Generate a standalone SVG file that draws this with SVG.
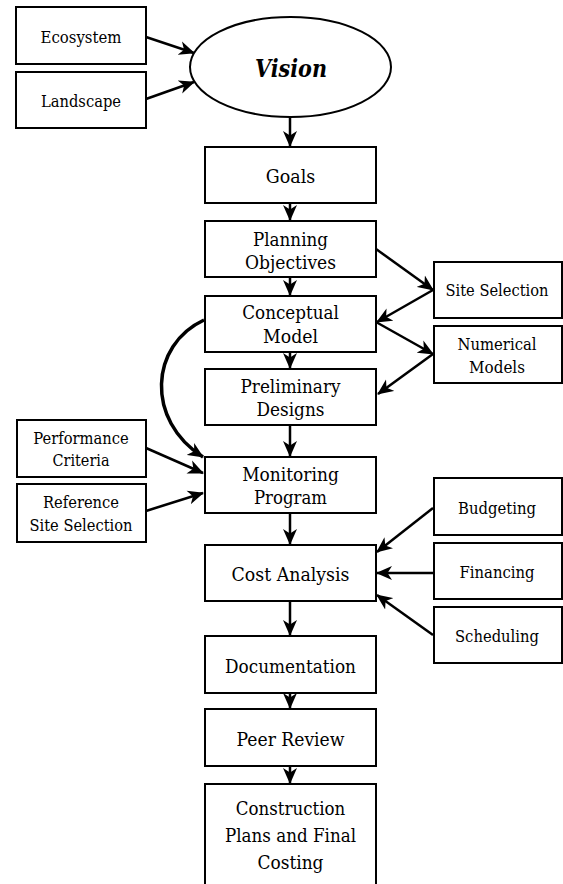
<svg xmlns="http://www.w3.org/2000/svg" width="563" height="884" viewBox="0 0 563 884">
<style>
.box{fill:#fff;stroke:#000;stroke-width:2}
.t{font-family:'DejaVu Serif',serif;fill:#000;text-anchor:middle}
.s{font-size:17.5px}
.c{font-size:19px}
.v{font-size:24px;font-weight:bold;font-style:italic}
.ln{fill:none;stroke:#000;stroke-width:2.5;marker-end:url(#ah)}
.cv{fill:none;stroke:#000;stroke-width:3.5;marker-end:url(#ah)}
</style>
<defs>
<marker id="ah" markerUnits="userSpaceOnUse" markerWidth="17" markerHeight="15" refX="15" refY="7" orient="auto" viewBox="0 0 17 14">
<path d="M0,0 L16,7 L0,14 L4.5,7 z" fill="#000"/>
</marker>
</defs>
<rect width="563" height="884" fill="#fff"/>
<g id="connectors">
<line class="ln" x1="146" y1="37" x2="194" y2="53"/>
<line class="ln" x1="146" y1="99" x2="194" y2="82"/>
<line class="ln" x1="290" y1="117" x2="290" y2="146"/>
<line class="ln" x1="290" y1="203" x2="290" y2="220"/>
<line class="ln" x1="290" y1="277" x2="290" y2="295"/>
<line class="ln" x1="290" y1="352" x2="290" y2="368"/>
<line class="ln" x1="290" y1="425" x2="290" y2="456"/>
<line class="ln" x1="290" y1="513" x2="290" y2="544"/>
<line class="ln" x1="290" y1="601" x2="290" y2="635"/>
<line class="ln" x1="290" y1="693" x2="290" y2="708"/>
<line class="ln" x1="290" y1="766" x2="290" y2="783"/>
<line class="ln" x1="376" y1="249" x2="433" y2="290"/>
<line class="ln" x1="433" y1="290" x2="377" y2="322"/>
<line class="ln" x1="376" y1="322" x2="433" y2="354"/>
<line class="ln" x1="433" y1="354" x2="378" y2="394"/>
<path class="cv" d="M204,320 C150,345 145,420 203,457"/>
<line class="ln" x1="146" y1="448" x2="203" y2="473"/>
<line class="ln" x1="146" y1="511" x2="203" y2="493"/>
<line class="ln" x1="433" y1="508" x2="377" y2="552"/>
<line class="ln" x1="433" y1="573" x2="377" y2="573"/>
<line class="ln" x1="433" y1="635" x2="377" y2="595"/>
</g>
<g id="ecosystem"><rect class="box" x="16" y="7" width="130" height="57"/><text class="t s" x="81" y="43" textLength="81" lengthAdjust="spacingAndGlyphs">Ecosystem</text></g>
<g id="landscape"><rect class="box" x="16" y="72" width="130" height="56"/><text class="t s" x="81" y="107" textLength="80" lengthAdjust="spacingAndGlyphs">Landscape</text></g>
<g id="vision"><ellipse fill="#fff" stroke="#000" stroke-width="2" cx="290.5" cy="67" rx="100.5" ry="50"/><text class="t v" x="291" y="77" textLength="72" lengthAdjust="spacingAndGlyphs">Vision</text></g>
<g id="goals"><rect class="box" x="205" y="147" width="171" height="56"/><text class="t c" x="290.5" y="183" textLength="49.5" lengthAdjust="spacingAndGlyphs">Goals</text></g>
<g id="planning"><rect class="box" x="205" y="221" width="171" height="56"/><text class="t c" x="290.5" y="246" textLength="75" lengthAdjust="spacingAndGlyphs">Planning</text><text class="t c" x="290.5" y="269" textLength="91" lengthAdjust="spacingAndGlyphs">Objectives</text></g>
<g id="conceptual"><rect class="box" x="205" y="296" width="171" height="56"/><text class="t c" x="290.5" y="319" textLength="96.5" lengthAdjust="spacingAndGlyphs">Conceptual</text><text class="t c" x="290.5" y="343" textLength="55" lengthAdjust="spacingAndGlyphs">Model</text></g>
<g id="preliminary"><rect class="box" x="205" y="369" width="171" height="56"/><text class="t c" x="290.5" y="393" textLength="100" lengthAdjust="spacingAndGlyphs">Preliminary</text><text class="t c" x="290.5" y="416" textLength="68" lengthAdjust="spacingAndGlyphs">Designs</text></g>
<g id="monitoring"><rect class="box" x="205" y="457" width="171" height="56"/><text class="t c" x="290.5" y="481" textLength="96.6" lengthAdjust="spacingAndGlyphs">Monitoring</text><text class="t c" x="290.5" y="504" textLength="73" lengthAdjust="spacingAndGlyphs">Program</text></g>
<g id="cost"><rect class="box" x="205" y="545" width="171" height="56"/><text class="t c" x="290.5" y="581" textLength="118" lengthAdjust="spacingAndGlyphs">Cost Analysis</text></g>
<g id="documentation"><rect class="box" x="205" y="636" width="171" height="57"/><text class="t c" x="290.5" y="673" textLength="131" lengthAdjust="spacingAndGlyphs">Documentation</text></g>
<g id="peer"><rect class="box" x="205" y="709" width="171" height="57"/><text class="t c" x="290.5" y="746" textLength="108" lengthAdjust="spacingAndGlyphs">Peer Review</text></g>
<g id="construction"><rect class="box" x="205" y="784" width="171" height="110"/><text class="t c" x="290.5" y="815" textLength="109.5" lengthAdjust="spacingAndGlyphs">Construction</text><text class="t c" x="290.5" y="842" textLength="131" lengthAdjust="spacingAndGlyphs">Plans and Final</text><text class="t c" x="290.5" y="869" textLength="66" lengthAdjust="spacingAndGlyphs">Costing</text></g>
<g id="siteselection"><rect class="box" x="434" y="262" width="128" height="56"/><text class="t" font-size="16" x="497" y="296" textLength="103" lengthAdjust="spacingAndGlyphs">Site Selection</text></g>
<g id="numerical"><rect class="box" x="434" y="326" width="128" height="57"/><text class="t s" x="497" y="350" textLength="79" lengthAdjust="spacingAndGlyphs">Numerical</text><text class="t s" x="497" y="373" textLength="56" lengthAdjust="spacingAndGlyphs">Models</text></g>
<g id="performance"><rect class="box" x="17" y="420" width="129" height="57"/><text class="t s" x="81" y="444" textLength="95.5" lengthAdjust="spacingAndGlyphs">Performance</text><text class="t s" x="81" y="466" textLength="57" lengthAdjust="spacingAndGlyphs">Criteria</text></g>
<g id="reference"><rect class="box" x="17" y="484" width="129" height="58"/><text class="t s" x="81" y="508" textLength="76" lengthAdjust="spacingAndGlyphs">Reference</text><text class="t s" x="81" y="531" textLength="103" lengthAdjust="spacingAndGlyphs">Site Selection</text></g>
<g id="budgeting"><rect class="box" x="434" y="478" width="128" height="57"/><text class="t s" x="497" y="514" textLength="78" lengthAdjust="spacingAndGlyphs">Budgeting</text></g>
<g id="financing"><rect class="box" x="434" y="543" width="128" height="56"/><text class="t s" x="497" y="578" textLength="75" lengthAdjust="spacingAndGlyphs">Financing</text></g>
<g id="scheduling"><rect class="box" x="434" y="607" width="128" height="56"/><text class="t s" x="497" y="642" textLength="84" lengthAdjust="spacingAndGlyphs">Scheduling</text></g>
</svg>
